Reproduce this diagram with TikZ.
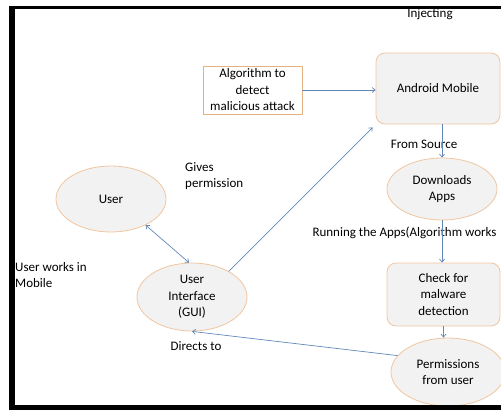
\documentclass[tikz,border=0pt]{standalone}
\usepackage{fontspec}
\setmainfont{Carlito}
\usetikzlibrary{arrows.meta,shapes.geometric}
\definecolor{tanedge}{RGB}{240,198,160}
\definecolor{algedge}{RGB}{228,178,128}
\definecolor{shade}{RGB}{242,242,242}
\definecolor{linkblue}{RGB}{98,136,184}
\newcommand {\frameedge}[3] {\draw[line width=#3] #1 -- #2;}

\begin{document}
\begin{tikzpicture}[x=1pt,y=-1pt,
	every node/.style={font=\fontsize{13}{16.5}\selectfont},
	oval/.style={ellipse,draw=tanedge,fill=shade,line width=0.8pt,align=center,inner sep=0pt},
	rbox/.style={rectangle,rounded corners=9pt,draw=tanedge,fill=shade,line width=0.8pt,align=center},
	link/.style={draw=linkblue,line width=0.7pt,-{Straight Barb[length=3pt,width=5pt]}}]
	\useasboundingbox (0,0) rectangle (501,410);
	\begin{scope}
	\clip (0,0) rectangle (501,410);
	% boxes and ovals
	\node[rectangle,draw=algedge,fill=white,line width=0.8pt,align=center,minimum width=99pt,minimum height=48pt,inner sep=0pt] (alg) at (252.5,90) {Algorithm to\\detect\\malicious attack};
	\node[rbox,minimum width=124pt,minimum height=71pt] (android) at (438,88.5) {Android Mobile};
	\node[oval,minimum width=110pt,minimum height=62pt] (down) at (442,189) {Downloads\\Apps};
	\node[rbox,minimum width=113pt,minimum height=63pt] (check) at (443.5,294.5) {Check for\\malware\\detection};
	\node[oval,minimum width=114pt,minimum height=68pt] (perm) at (448,372) {Permissions\\from user};
	\node[oval,minimum width=110pt,minimum height=68pt] (gui) at (192,297) {User\\Interface\\(GUI)};
	\node[oval,minimum width=110pt,minimum height=66pt] (user) at (111,199) {User};
	% labels
	\node (inject) at (430,14) {Injecting};
	\node (fromsrc) at (424,144) {From Source};
	\node[anchor=west] (running) at (309,233) {Running the Apps(Algorithm works};
	\node[anchor=north west,align=left,inner sep=0pt] (gives) at (185,162) {Gives\\permission};
	\node[anchor=north west,align=left,inner sep=0pt] (works) at (15,262) {User works in\\Mobile};
	\node (directs) at (196,346) {Directs to};
	\coordinate (mobcorner) at ([shift={(-3,3)}]android.south west);
	% connectors
	\draw[link] (alg.east) -- (alg.east -| android.west);
	\draw[link] (down.north |- android.south) -- (down.north);
	\draw[link] (down.south) -- (down.south |- check.north);
	\draw[link] (check.south) -- (check.south |- perm.north);
	\draw[link] (perm.162) -- (gui.south);
	\draw[link,{Straight Barb[length=3pt,width=5pt]}-{Straight Barb[length=3pt,width=5pt]}] (user.-37) -- (gui.95);
	\draw[link] (gui.35) -- (mobcorner);
	\end{scope}
	% frame
	\frameedge{(12,7.5)}{(501,7.5)}{3.5pt}
	\frameedge{(12,5.5)}{(12,410)}{6pt}
	\frameedge{(9,407.5)}{(501,407.5)}{5pt}
\end{tikzpicture}
\end{document}
